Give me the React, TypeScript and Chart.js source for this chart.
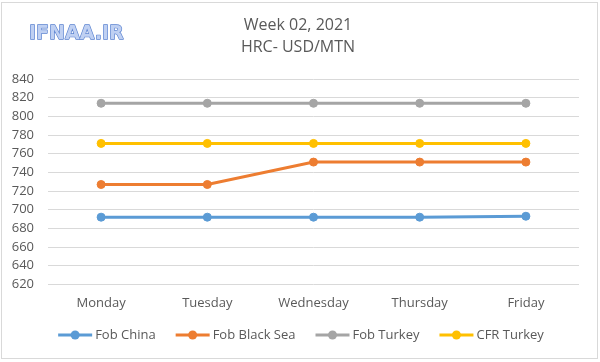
import React, { useEffect, useRef } from "react";
import { Chart, registerables } from "chart.js";

Chart.register(...registerables);

const categories = ["Monday", "Tuesday", "Wednesday", "Thursday", "Friday"];
const fobChina = [692, 692, 692, 692, 693];
const fobBlackSea = [727, 727, 751, 751, 751];
const fobTurkey = [814, 814, 814, 814, 814];
const cfrTurkey = [771, 771, 771, 771, 771];
const seriesNames = ["Fob China", "Fob Black Sea", "Fob Turkey", "CFR Turkey"];
const seriesColors = ["#5B9BD5", "#ED7D31", "#A5A5A5", "#FFC000"];
const titleLines = ["Week 02, 2021", "HRC- USD/MTN"];
const logoText = "IFNAA.IR";
const yMin = 620;
const yMax = 840;
const yStep = 20;

const FONT = "'Open Sans', 'Noto Sans', sans-serif";
const TEXT_COLOR = "#595959";

const decorPlugin = {
  id: "decor",
  beforeDraw(chart: any) {
    const { ctx, width, height } = chart;
    ctx.save();
    ctx.fillStyle = "#ffffff";
    ctx.fillRect(0, 0, width, height);
    ctx.restore();
  },
  afterDraw(chart: any) {
    const { ctx } = chart;
    ctx.save();
    // outer border
    ctx.strokeStyle = "#D9D9D9";
    ctx.lineWidth = 1;
    ctx.strokeRect(1.5, 2.5, 596, 356);

    // logo
    ctx.font = "bold 19px 'DejaVu Sans', sans-serif";
    ctx.textAlign = "left";
    ctx.textBaseline = "middle";
    ctx.lineJoin = "round";
    ctx.strokeStyle = "#5A82D0";
    ctx.lineWidth = 1.3;
    ctx.strokeText(logoText, 29, 34);
    ctx.fillStyle = "#BFD0F2";
    ctx.fillText(logoText, 29, 34);

    // title
    ctx.fillStyle = TEXT_COLOR;
    ctx.textAlign = "center";
    ctx.font = `16px ${FONT}`;
    ctx.fillText(titleLines[0], 298, 25);
    ctx.fillText(titleLines[1], 298, 47);

    // legend
    const ds = chart.data.datasets;
    ctx.font = `13px ${FONT}`;
    const lineLen = 34;
    const gapText = 3;
    const gapItem = 20;
    const widths = ds.map((d: any) => lineLen + gapText + ctx.measureText(d.label).width);
    const total = widths.reduce((a: number, b: number) => a + b, 0) + gapItem * (ds.length - 1);
    let x = 301 - total / 2;
    const y = 335;
    ds.forEach((d: any, i: number) => {
      ctx.strokeStyle = d.borderColor;
      ctx.lineWidth = 3;
      ctx.beginPath();
      ctx.moveTo(x, y);
      ctx.lineTo(x + lineLen, y);
      ctx.stroke();
      ctx.fillStyle = d.borderColor;
      ctx.beginPath();
      ctx.arc(x + lineLen / 2, y, 4.5, 0, Math.PI * 2);
      ctx.fill();
      ctx.fillStyle = TEXT_COLOR;
      ctx.textAlign = "left";
      ctx.fillText(d.label, x + lineLen + gapText, y);
      x += widths[i] + gapItem;
    });
    ctx.restore();
  },
};

export default function App() {
  const ref = useRef<HTMLCanvasElement | null>(null);
  useEffect(() => {
    if (!ref.current) return;
    const seriesValues = [fobChina, fobBlackSea, fobTurkey, cfrTurkey];
    const chart = new Chart(ref.current, {
      type: "line",
      data: {
        labels: categories,
        datasets: seriesValues.map((vals, i) => ({
          label: seriesNames[i],
          data: vals,
          borderColor: seriesColors[i],
          backgroundColor: seriesColors[i],
          pointBackgroundColor: seriesColors[i],
          pointBorderColor: seriesColors[i],
          borderWidth: 3,
          pointRadius: 4,
          pointBorderWidth: 1,
          tension: 0,
          fill: false,
        })),
      },
      options: {
        animation: false,
        responsive: false,
        maintainAspectRatio: false,
        layout: { padding: { left: 0, right: 21, top: 79, bottom: 40 } },
        plugins: {
          legend: { display: false },
          title: { display: false },
          tooltip: { enabled: false },
        },
        scales: {
          x: {
            offset: true,
            grid: { display: false, drawTicks: false },
            border: { display: false },
            ticks: { color: TEXT_COLOR, font: { size: 13, family: FONT }, padding: 11 },
          },
          y: {
            min: yMin,
            max: yMax,
            grid: { color: "#D9D9D9", lineWidth: 1, drawTicks: false },
            border: { display: false },
            ticks: { stepSize: yStep, color: TEXT_COLOR, font: { size: 13, family: FONT }, padding: 14 },
            afterFit(scale: any) {
              scale.width = 48;
            },
          },
        },
      },
      plugins: [decorPlugin],
    });
    return () => chart.destroy();
  }, []);
  return (
    <div style={{ position: "fixed", left: 0, top: 0, width: 600, height: 362, background: "#fff" }}>
      <canvas ref={ref} width={600} height={362} style={{ width: 600, height: 362, display: "block" }} />
    </div>
  );
}
